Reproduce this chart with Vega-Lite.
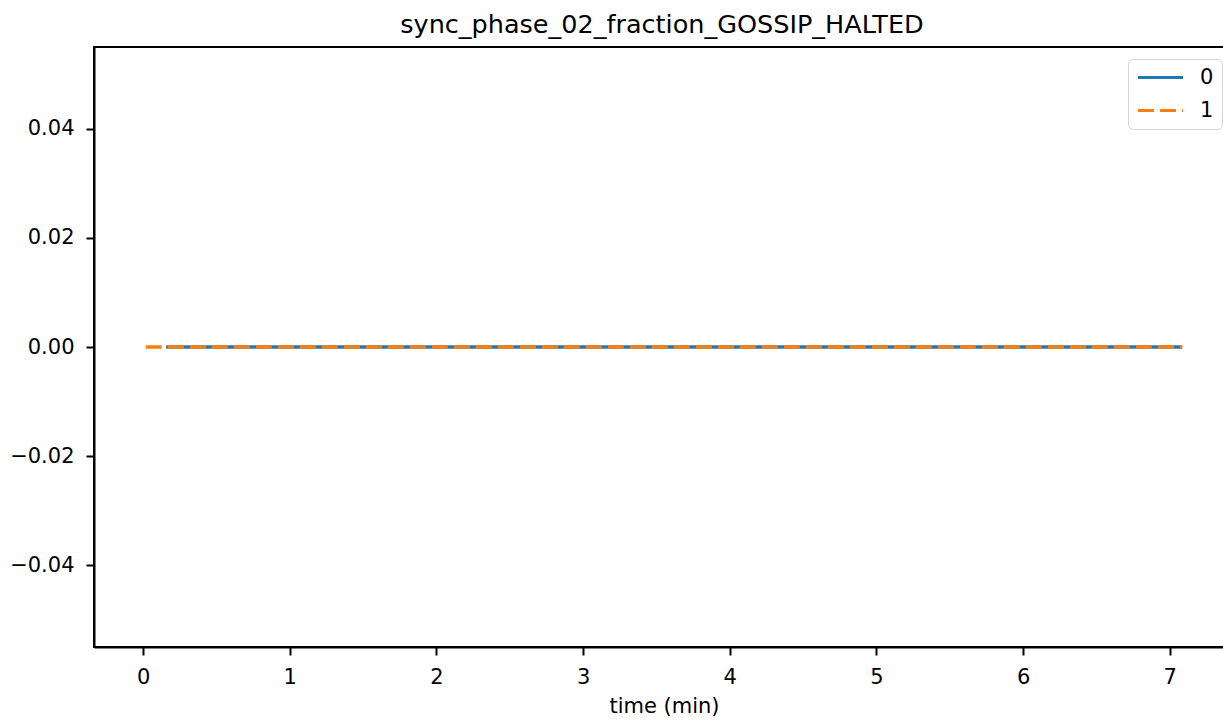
{
  "$schema": "https://vega.github.io/schema/vega-lite/v6.json",
  "autosize": {"type": "none"},
  "padding": {"left": 94, "top": 47, "right": 0, "bottom": 74},
  "width": 1140,
  "height": 600,
  "background": "white",
  "title": {
    "text": "sync_phase_02_fraction_GOSSIP_HALTED",
    "font": "DejaVu Sans",
    "fontSize": 25.5,
    "fontWeight": "normal",
    "color": "black",
    "anchor": "middle",
    "frame": "group",
    "offset": 9,
    "dx": -2
  },
  "config": {
    "view": {"stroke": "black", "strokeWidth": 2},
    "axis": {
      "labelFont": "DejaVu Sans",
      "labelFontSize": 21,
      "labelColor": "black",
      "titleFont": "DejaVu Sans",
      "titleFontSize": 21,
      "titleFontWeight": "normal",
      "titleColor": "black",
      "domainColor": "black",
      "domainWidth": 2,
      "tickColor": "black",
      "tickWidth": 2,
      "tickSize": 8,
      "labelPadding": 11,
      "grid": false
    }
  },
  "data": {
    "values": [
      {"time": 0.157, "value": 0, "series": "0"},
      {"time": 1.0, "value": 0, "series": "0"},
      {"time": 2.0, "value": 0, "series": "0"},
      {"time": 3.0, "value": 0, "series": "0"},
      {"time": 4.0, "value": 0, "series": "0"},
      {"time": 5.0, "value": 0, "series": "0"},
      {"time": 6.0, "value": 0, "series": "0"},
      {"time": 7.085, "value": 0, "series": "0"},
      {"time": 0.018, "value": 0, "series": "1"},
      {"time": 1.0, "value": 0, "series": "1"},
      {"time": 2.0, "value": 0, "series": "1"},
      {"time": 3.0, "value": 0, "series": "1"},
      {"time": 4.0, "value": 0, "series": "1"},
      {"time": 5.0, "value": 0, "series": "1"},
      {"time": 6.0, "value": 0, "series": "1"},
      {"time": 7.085, "value": 0, "series": "1"}
    ]
  },
  "mark": {"type": "line", "strokeWidth": 3.4, "clip": true},
  "encoding": {
    "x": {
      "field": "time",
      "type": "quantitative",
      "title": "time (min)",
      "scale": {"domain": [-0.335, 7.438], "nice": false, "zero": false},
      "axis": {"values": [0, 1, 2, 3, 4, 5, 6, 7], "format": "d", "titlePadding": 8}
    },
    "y": {
      "field": "value",
      "type": "quantitative",
      "title": null,
      "scale": {"domain": [-0.055, 0.055], "nice": false, "zero": false},
      "axis": {"values": [-0.04, -0.02, 0, 0.02, 0.04], "format": ".2f", "labelPadding": 12}
    },
    "color": {
      "field": "series",
      "type": "nominal",
      "scale": {"domain": ["0", "1"], "range": ["#1f77b4", "#ff7f0e"]},
      "legend": {
        "title": null,
        "orient": "none",
        "legendX": 1034,
        "legendY": 12,
        "symbolType": "stroke",
        "symbolSize": 2025,
        "symbolStrokeWidth": 3.2,
        "clipHeight": 21,
        "labelFont": "DejaVu Sans",
        "labelFontSize": 21,
        "labelColor": "black",
        "labelOffset": 15,
        "rowPadding": 11,
        "padding": 8,
        "strokeColor": "#d5d5d5",
        "fillColor": "white",
        "cornerRadius": 5
      }
    },
    "strokeDash": {
      "field": "series",
      "type": "nominal",
      "scale": {"domain": ["0", "1"], "range": [[1, 0], [16, 6]]},
      "legend": {
        "title": null,
        "orient": "none",
        "legendX": 1034,
        "legendY": 12,
        "symbolType": "stroke",
        "symbolSize": 2025,
        "symbolStrokeWidth": 3.2,
        "clipHeight": 21,
        "labelFont": "DejaVu Sans",
        "labelFontSize": 21,
        "labelColor": "black",
        "labelOffset": 15,
        "rowPadding": 11,
        "padding": 8,
        "strokeColor": "#d5d5d5",
        "fillColor": "white",
        "cornerRadius": 5
      }
    }
  }
}
